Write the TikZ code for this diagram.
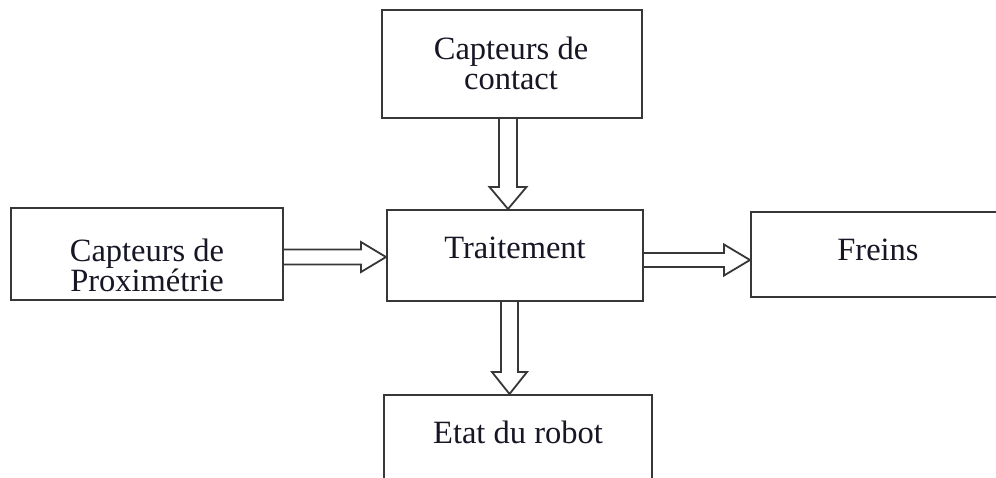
\documentclass[tikz,border=0pt]{standalone}
\usepackage{fontspec}
\setmainfont{Liberation Serif}
\usetikzlibrary{calc}
\definecolor{linec}{RGB}{55,55,55}
\definecolor{txtc}{RGB}{22,22,36}
\newcommand{\vblk}[4]{% #1 start, #2 tip, #3 shaft half, #4 head half (downward)
  \draw[blk] ($(#1)+(-#3,0)$) -- ($(#2)+(-#3,-22)$) -- ($(#2)+(-#4,-22)$) -- (#2)
    -- ($(#2)+(#4,-22)$) -- ($(#2)+(#3,-22)$) -- ($(#1)+(#3,0)$);}
\newcommand{\hblk}[5]{% #1 start, #2 tip, #3 shaft half, #4 head half, #5 head length (rightward)
  \draw[blk] ($(#1)+(0,-#3)$) -- ($(#2)+(-#5,-#3)$) -- ($(#2)+(-#5,-#4)$) -- (#2)
    -- ($(#2)+(-#5,#4)$) -- ($(#2)+(-#5,#3)$) -- ($(#1)+(0,#3)$);}
\begin{document}
\begin{tikzpicture}[x=1pt,y=-1pt,
  boxst/.style={draw=linec,line width=2pt,rectangle,inner sep=0pt,fill=white},
  txt/.style={text=txtc,font=\fontsize{32.5}{30}\selectfont,align=center,inner sep=0pt},
  blk/.style={draw=linec,line width=1.8pt,line join=miter,fill=white}]
\path[use as bounding box] (0,0) rectangle (996,477);
\clip (0,0) rectangle (996,477);
\fill[white] (0,0) rectangle (996,477);
% boxes
\node[boxst,minimum width=260pt,minimum height=108pt] (c) at (512,64) {};
\node[boxst,minimum width=256pt,minimum height=91pt] (t) at (515,255.5) {};
\node[boxst,minimum width=272pt,minimum height=92pt] (p) at (147,254) {};
\node[boxst,minimum width=254pt,minimum height=85pt] (f) at (878,254.5) {};
\node[boxst,minimum width=268pt,minimum height=90pt] (e) at (518,440) {};
% texts
\node[txt] (ctxt) at (511,63.5) {Capteurs de\\contact};
\node[txt,anchor=base] (ttxt) at (515,258) {Traitement};
\node[txt] (ptxt) at (147,265) {Capteurs de\\Proximétrie};
\node[txt,anchor=base] (ftxt) at (878,260) {Freins};
\node[txt,anchor=base] (etxt) at (518,443) {Etat du robot};
% arrow anchors
\coordinate (a1s) at ($(c.south)+(-4,0)$);
\coordinate (a1t) at (a1s |- t.north);
\coordinate (a2s) at ($(t.south)+(-5.5,0)$);
\coordinate (a2t) at (a2s |- e.north);
\coordinate (a3s) at ($(p.east)+(0,3)$);
\coordinate (a3t) at (a3s -| t.west);
\coordinate (a4s) at ($(t.east)+(0,4.5)$);
\coordinate (a4t) at (a4s -| f.west);
% block arrows
\vblk{a1s}{a1t}{9}{18.5}
\vblk{a2s}{a2t}{8.5}{17.5}
\hblk{a3s}{a3t}{7.5}{15}{25}
\hblk{a4s}{a4t}{7}{15.5}{26}
\end{tikzpicture}
\end{document}
